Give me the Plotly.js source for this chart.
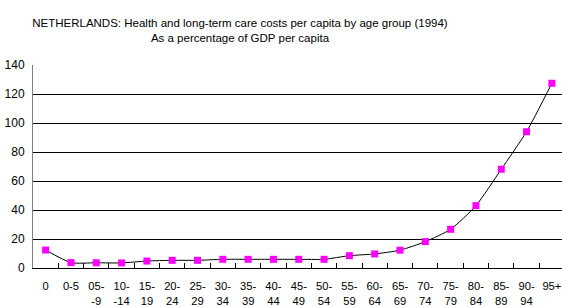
<!DOCTYPE html>
<html>
<head>
<meta charset="utf-8">
<script src="https://cdn.plot.ly/plotly-3.0.1.min.js"></script>
<style>
html,body{margin:0;padding:0;background:#fff;}
#chart{width:562px;height:307px;}
</style>
</head>
<body>
<div id="chart"></div>
<script>
const ageGroups = ['0','0-5','05-9','10-14','15-19','20-24','25-29','30-34','35-39','40-44','45-49','50-54','55-59','60-64','65-69','70-74','75-79','80-84','85-89','90-94','95+'];
const tickLabels = ['0','0-5','05-<br>-9','10-<br>-14','15-<br>19','20-<br>24','25-<br>29','30-<br>34','35-<br>39','40-<br>44','45-<br>49','50-<br>54','55-<br>59','60-<br>64','65-<br>69','70-<br>74','75-<br>79','80-<br>84','85-<br>89','90-<br>94','95+'];
const costPct = [12.4, 3.7, 3.6, 3.5, 4.8, 5.3, 5.3, 6.0, 6.0, 6.0, 6.0, 6.0, 8.5, 9.7, 12.3, 18.2, 26.7, 43.0, 68.1, 94.0, 127.4];
const yTicks = [0,20,40,60,80,100,120,140];

const trace = {
  x: ageGroups,
  y: costPct,
  type: 'scatter',
  mode: 'lines+markers',
  line: {color: '#000000', width: 1, shape: 'spline', smoothing: 0.6},
  marker: {symbol: 'square', size: 7, color: '#FF00FF'},
  hoverinfo: 'skip'
};

const layout = {
  width: 562, height: 307,
  margin: {l: 33, r: 0, t: 65, b: 39},
  paper_bgcolor: '#ffffff', plot_bgcolor: '#ffffff',
  font: {family: 'Arial, "Liberation Sans", sans-serif', color: '#000000', size: 12},
  showlegend: false,
  title: {
    text: 'NETHERLANDS: Health and long-term care costs per capita by age group (1994)<br>As a percentage of GDP per capita',
    font: {size: 11.5, color: '#000000'},
    x: 0.427, xref: 'container', xanchor: 'center',
    y: 0.913, yref: 'container', yanchor: 'top'
  },
  xaxis: {
    type: 'category',
    range: [-0.5, 20.4],
    tickmode: 'array', tickvals: ageGroups, ticktext: tickLabels,
    tickson: 'boundaries', ticks: 'inside', ticklen: 5, tickcolor: '#000000', tickwidth: 1,
    tickangle: 0,
    showline: true, linecolor: '#000000', linewidth: 1,
    showgrid: false, zeroline: false,
    ticklabeloverflow: 'allow',
    ticklabelstandoff: 8,
    tickfont: {size: 11.2}
  },
  yaxis: {
    range: [0, 140],
    tickmode: 'array', tickvals: yTicks,
    showgrid: true, gridcolor: '#000000', gridwidth: 1,
    showline: true, linecolor: '#808080', linewidth: 1, mirror: true,
    ticks: '', zeroline: false,
    ticklabelstandoff: 5,
    tickfont: {size: 12}
  }
};

Plotly.newPlot('chart', [trace], layout, {displayModeBar: false, staticPlot: true});
</script>
</body>
</html>
